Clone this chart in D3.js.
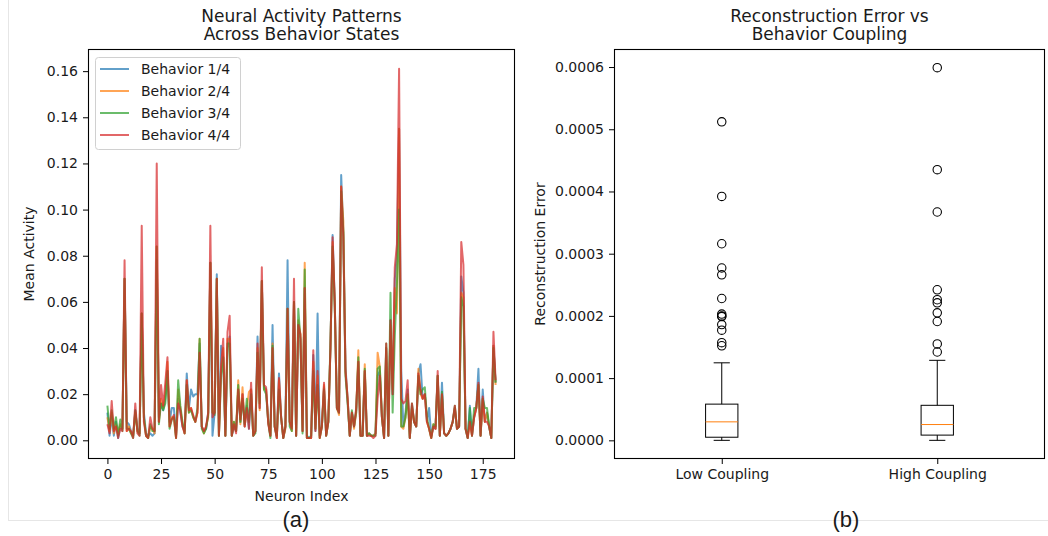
<!DOCTYPE html>
<html><head><meta charset="utf-8">
<script src="https://cdn.jsdelivr.net/npm/d3@7"></script>
<style>
body{margin:0;background:#fff}
svg{display:block}
text{font-family:"DejaVu Sans",sans-serif;fill:#1a1a1a}
</style>
</head><body>
<svg id="chart" width="1048" height="536"></svg>
<script>
// ---------- Panel (a) data: mean activity per neuron ----------
const behavior1 = [
0.012,0.002,0.010,0.002,0.008,0.001,0.006,0.005,0.070,0.008,
0.007,0.004,0.002,0.013,0.005,0.003,0.055,0.012,0.003,0.002,
0.003,0.002,0.003,0.078,0.010,0.016,0.013,0.018,0.030,0.008,
0.014,0.014,0.002,0.018,0.012,0.006,0.004,0.029,0.014,0.022,
0.019,0.020,0.020,0.042,0.006,0.004,0.005,0.012,0.077,0.002,
0.012,0.072,0.002,0.041,0.036,0.002,0.040,0.045,0.002,0.006,
0.004,0.022,0.008,0.020,0.006,0.015,0.005,0.022,0.002,0.004,
0.045,0.014,0.069,0.023,0.022,0.008,0.002,0.050,0.006,0.001,
0.029,0.010,0.001,0.006,0.078,0.008,0.006,0.060,0.002,0.050,
0.044,0.004,0.066,0.002,0.001,0.001,0.037,0.004,0.055,0.002,
0.006,0.023,0.002,0.008,0.040,0.089,0.060,0.014,0.012,0.115,
0.090,0.032,0.018,0.002,0.012,0.006,0.012,0.034,0.002,0.002,
0.030,0.002,0.003,0.002,0.002,0.003,0.028,0.030,0.010,0.001,
0.040,0.002,0.052,0.020,0.070,0.080,0.135,0.030,0.006,0.012,
0.022,0.001,0.015,0.008,0.006,0.029,0.033,0.018,0.020,0.008,
0.014,0.002,0.006,0.005,0.028,0.002,0.025,0.003,0.002,0.003,
0.005,0.008,0.014,0.005,0.006,0.071,0.064,0.005,0.001,0.015,
0.002,0.010,0.014,0.031,0.002,0.022,0.008,0.012,0.006,0.001,
0.041,0.025];
const behavior2 = [
0.010,0.004,0.012,0.003,0.007,0.003,0.007,0.005,0.070,0.004,
0.006,0.003,0.002,0.012,0.004,0.003,0.055,0.010,0.002,0.001,
0.006,0.005,0.003,0.084,0.008,0.018,0.014,0.020,0.034,0.006,
0.010,0.010,0.001,0.022,0.014,0.007,0.003,0.026,0.012,0.014,
0.010,0.008,0.012,0.044,0.006,0.003,0.006,0.010,0.077,0.012,
0.012,0.070,0.002,0.030,0.040,0.002,0.044,0.044,0.002,0.008,
0.004,0.026,0.007,0.023,0.006,0.014,0.021,0.022,0.002,0.004,
0.040,0.013,0.069,0.022,0.022,0.008,0.002,0.042,0.006,0.001,
0.026,0.010,0.001,0.005,0.057,0.008,0.004,0.060,0.002,0.052,
0.046,0.004,0.077,0.001,0.001,0.001,0.034,0.005,0.028,0.001,
0.006,0.024,0.002,0.008,0.040,0.086,0.060,0.014,0.011,0.110,
0.095,0.030,0.018,0.002,0.012,0.005,0.012,0.039,0.002,0.002,
0.033,0.002,0.003,0.002,0.002,0.003,0.038,0.032,0.010,0.001,
0.040,0.002,0.050,0.022,0.066,0.055,0.135,0.006,0.005,0.010,
0.020,0.001,0.014,0.008,0.006,0.031,0.020,0.018,0.020,0.008,
0.005,0.001,0.007,0.005,0.028,0.002,0.020,0.003,0.002,0.003,
0.005,0.008,0.014,0.005,0.006,0.064,0.062,0.005,0.001,0.008,
0.002,0.010,0.014,0.024,0.002,0.018,0.008,0.012,0.006,0.001,
0.041,0.024];
const behavior3 = [
0.015,0.005,0.013,0.005,0.010,0.002,0.009,0.004,0.070,0.005,
0.005,0.003,0.001,0.013,0.004,0.002,0.055,0.010,0.002,0.001,
0.007,0.004,0.004,0.084,0.007,0.016,0.013,0.016,0.030,0.005,
0.009,0.010,0.001,0.026,0.015,0.008,0.003,0.024,0.012,0.013,
0.010,0.008,0.014,0.044,0.005,0.003,0.005,0.011,0.077,0.012,
0.011,0.070,0.002,0.028,0.036,0.002,0.042,0.042,0.002,0.008,
0.004,0.024,0.008,0.018,0.007,0.018,0.008,0.020,0.002,0.003,
0.038,0.016,0.069,0.022,0.020,0.008,0.001,0.041,0.006,0.002,
0.022,0.010,0.001,0.006,0.057,0.006,0.004,0.060,0.002,0.057,
0.044,0.003,0.074,0.001,0.001,0.002,0.030,0.005,0.024,0.001,
0.006,0.022,0.002,0.008,0.042,0.084,0.058,0.014,0.012,0.108,
0.090,0.028,0.016,0.002,0.013,0.006,0.013,0.036,0.002,0.002,
0.031,0.002,0.003,0.002,0.002,0.002,0.031,0.032,0.010,0.001,
0.042,0.002,0.064,0.012,0.045,0.068,0.100,0.006,0.006,0.010,
0.020,0.001,0.016,0.008,0.006,0.028,0.020,0.022,0.023,0.010,
0.005,0.001,0.007,0.006,0.028,0.002,0.021,0.003,0.002,0.003,
0.005,0.008,0.015,0.005,0.006,0.062,0.058,0.005,0.001,0.014,
0.002,0.014,0.014,0.024,0.002,0.018,0.014,0.014,0.006,0.001,
0.040,0.025];
const behavior4 = [
0.007,0.003,0.017,0.004,0.006,0.001,0.005,0.004,0.078,0.004,
0.005,0.004,0.001,0.016,0.003,0.002,0.093,0.008,0.002,0.001,
0.010,0.005,0.004,0.120,0.008,0.024,0.015,0.025,0.036,0.006,
0.009,0.011,0.001,0.016,0.013,0.006,0.003,0.026,0.013,0.014,
0.011,0.008,0.012,0.038,0.006,0.004,0.006,0.012,0.093,0.010,
0.012,0.070,0.002,0.032,0.044,0.002,0.047,0.054,0.002,0.007,
0.003,0.022,0.009,0.020,0.006,0.014,0.005,0.025,0.002,0.004,
0.042,0.014,0.075,0.024,0.023,0.007,0.002,0.040,0.006,0.001,
0.027,0.010,0.001,0.006,0.057,0.008,0.005,0.070,0.002,0.050,
0.046,0.004,0.066,0.001,0.001,0.001,0.039,0.004,0.030,0.001,
0.006,0.025,0.002,0.008,0.040,0.088,0.060,0.014,0.012,0.110,
0.088,0.030,0.018,0.002,0.012,0.006,0.014,0.034,0.002,0.002,
0.030,0.002,0.002,0.002,0.001,0.002,0.018,0.028,0.010,0.001,
0.042,0.002,0.052,0.020,0.075,0.085,0.161,0.018,0.016,0.017,
0.026,0.001,0.016,0.008,0.006,0.029,0.022,0.018,0.020,0.008,
0.005,0.001,0.006,0.005,0.030,0.002,0.020,0.003,0.002,0.003,
0.005,0.008,0.015,0.005,0.006,0.086,0.076,0.005,0.001,0.008,
0.002,0.010,0.014,0.025,0.002,0.019,0.008,0.008,0.006,0.001,
0.047,0.026];
const seriesNames = ["Behavior 1/4","Behavior 2/4","Behavior 3/4","Behavior 4/4"];
const seriesColors = ["#1f77b4","#ff7f0e","#2ca02c","#d62728"];
const xTicksA = [0,25,50,75,100,125,150,175];
const yTicksA = [0,0.02,0.04,0.06,0.08,0.10,0.12,0.14,0.16];

// ---------- Panel (b) data: box statistics ----------
const groups = ["Low Coupling","High Coupling"];
const whiskerLow = [0.0000000, 0.0000000];
const q1 = [0.0000050, 0.0000084];
const medians = [0.0000297, 0.0000254];
const q3 = [0.0000582, 0.0000563];
const whiskerHigh = [0.0001246, 0.0001286];
const outliersLow = [0.000512,0.000392,0.000316,0.000277,0.000266,0.000228,0.000203,0.000200,0.000199,0.000186,0.000177,0.000157,0.000152];
const outliersHigh = [0.000599,0.000435,0.000367,0.000242,0.000226,0.000221,0.000205,0.000191,0.000155,0.000142];
const yTicksB = [0,0.0001,0.0002,0.0003,0.0004,0.0005,0.0006];

const svg = d3.select("#chart");
const axTop = 49, axBottom = 459;

// separators
svg.append("line").attr("x1",8.5).attr("x2",8.5).attr("y1",0).attr("y2",520)
  .attr("stroke","#e6e6e6").attr("stroke-width",1);
svg.append("line").attr("x1",8).attr("x2",1048).attr("y1",520.5).attr("y2",520.5)
  .attr("stroke","#e6e6e6").attr("stroke-width",1);

function styleAxis(g){
  g.select(".domain").remove();
  g.selectAll("text").attr("font-size",14).attr("font-family","DejaVu Sans").attr("fill","#1a1a1a");
  g.selectAll("line").attr("stroke","#000");
}

// ================= Panel (a) =================
const ax = {l:88, r:515};
const xA = d3.scaleLinear().domain([-9.05, 190.05]).range([ax.l, ax.r]);
const yA = d3.scaleLinear().domain([-0.0081, 0.1696]).range([axBottom, axTop]);
const gA = svg.append("g");

const series = [behavior1, behavior2, behavior3, behavior4];
const lineGen = d3.line().x((d,i)=>xA(i)).y(d=>yA(d));
series.forEach((s,k)=>{
  gA.append("path").attr("d", lineGen(s)).attr("fill","none")
    .attr("stroke", seriesColors[k]).attr("stroke-width",2)
    .attr("stroke-opacity",0.7).attr("stroke-linejoin","round");
});

gA.append("g").attr("transform",`translate(0,${axBottom})`)
  .call(d3.axisBottom(xA).tickValues(xTicksA).tickSize(5).tickPadding(5).tickFormat(d3.format("d")))
  .call(styleAxis);
gA.append("g").attr("transform",`translate(${ax.l},0)`)
  .call(d3.axisLeft(yA).tickValues(yTicksA).tickSize(5).tickPadding(5).tickFormat(d3.format(".2f")))
  .call(styleAxis);
gA.append("rect").attr("x",ax.l+0.5).attr("y",axTop+0.5).attr("width",ax.r-ax.l-1).attr("height",axBottom-axTop-1)
  .attr("fill","none").attr("stroke","#000").attr("stroke-width",1.1);

// titles & labels (a)
const cxA = (ax.l+ax.r)/2;
gA.append("text").attr("x",cxA).attr("y",22).attr("text-anchor","middle").attr("font-size",17).text("Neural Activity Patterns");
gA.append("text").attr("x",cxA).attr("y",40).attr("text-anchor","middle").attr("font-size",17).text("Across Behavior States");
gA.append("text").attr("x",cxA).attr("y",501).attr("text-anchor","middle").attr("font-size",14).text("Neuron Index");
gA.append("text").attr("transform",`translate(34,${(axTop+axBottom)/2}) rotate(-90)`).attr("text-anchor","middle").attr("font-size",14).text("Mean Activity");

// legend
const lg = gA.append("g");
lg.append("rect").attr("x",95.5).attr("y",57.5).attr("width",145).attr("height",92).attr("rx",3)
  .attr("fill","#fff").attr("fill-opacity",0.8).attr("stroke","#d0d0d0");
seriesNames.forEach((nm,k)=>{
  const y = 69 + k*22;
  lg.append("line").attr("x1",100).attr("x2",129).attr("y1",y).attr("y2",y)
    .attr("stroke",seriesColors[k]).attr("stroke-width",2).attr("stroke-opacity",0.7);
  lg.append("text").attr("x",141).attr("y",y+5).attr("font-size",14).text(nm);
});

// ================= Panel (b) =================
const bx = {l:614, r:1045};
const xB = d3.scaleLinear().domain([0.5, 2.5]).range([bx.l, bx.r]);
const yB = d3.scaleLinear().domain([-0.0000300, 0.000629]).range([axBottom, axTop]);
const gB = svg.append("g");
const boxW = xB(1.075) - xB(1);   // half box width
const capW = boxW/2;

groups.forEach((gname,i)=>{
  const cx = xB(i+1);
  const outs = i===0 ? outliersLow : outliersHigh;
  gB.append("line").attr("x1",cx).attr("x2",cx).attr("y1",yB(q3[i])).attr("y2",yB(whiskerHigh[i])).attr("stroke","#000");
  gB.append("line").attr("x1",cx).attr("x2",cx).attr("y1",yB(q1[i])).attr("y2",yB(whiskerLow[i])).attr("stroke","#000");
  gB.append("line").attr("x1",cx-capW).attr("x2",cx+capW).attr("y1",yB(whiskerHigh[i])).attr("y2",yB(whiskerHigh[i])).attr("stroke","#000");
  gB.append("line").attr("x1",cx-capW).attr("x2",cx+capW).attr("y1",yB(whiskerLow[i])).attr("y2",yB(whiskerLow[i])).attr("stroke","#000");
  gB.append("rect").attr("x",cx-boxW).attr("y",yB(q3[i])).attr("width",2*boxW).attr("height",yB(q1[i])-yB(q3[i]))
    .attr("fill","none").attr("stroke","#000");
  gB.append("line").attr("x1",cx-boxW).attr("x2",cx+boxW).attr("y1",yB(medians[i])).attr("y2",yB(medians[i])).attr("stroke","#ff7f0e");
  gB.selectAll(null).data(outs).enter().append("circle")
    .attr("cx",cx).attr("cy",d=>yB(d)).attr("r",4.2).attr("fill","none").attr("stroke","#000").attr("stroke-width",1.1);
});

gB.append("g").attr("transform",`translate(0,${axBottom})`)
  .call(d3.axisBottom(xB).tickValues([1,2]).tickSize(5).tickPadding(5).tickFormat((d,i)=>groups[i]))
  .call(styleAxis);
gB.append("g").attr("transform",`translate(${bx.l},0)`)
  .call(d3.axisLeft(yB).tickValues(yTicksB).tickSize(5).tickPadding(5).tickFormat(d3.format(".4f")))
  .call(styleAxis);
gB.append("rect").attr("x",bx.l+0.5).attr("y",axTop+0.5).attr("width",bx.r-bx.l-1).attr("height",axBottom-axTop-1)
  .attr("fill","none").attr("stroke","#000").attr("stroke-width",1.1);

const cxB = (bx.l+bx.r)/2;
gB.append("text").attr("x",cxB).attr("y",22).attr("text-anchor","middle").attr("font-size",17).text("Reconstruction Error vs");
gB.append("text").attr("x",cxB).attr("y",40).attr("text-anchor","middle").attr("font-size",17).text("Behavior Coupling");
gB.append("text").attr("transform",`translate(545,${(axTop+axBottom)/2}) rotate(-90)`).attr("text-anchor","middle").attr("font-size",14).text("Reconstruction Error");

// panel captions
svg.append("text").attr("x",296).attr("y",527).attr("text-anchor","middle").attr("font-size",22)
  .style("font-family","'Liberation Sans',Arial,sans-serif").attr("fill","#000").text("(a)");
svg.append("text").attr("x",846).attr("y",527).attr("text-anchor","middle").attr("font-size",22)
  .style("font-family","'Liberation Sans',Arial,sans-serif").attr("fill","#000").text("(b)");
</script>
</body></html>
